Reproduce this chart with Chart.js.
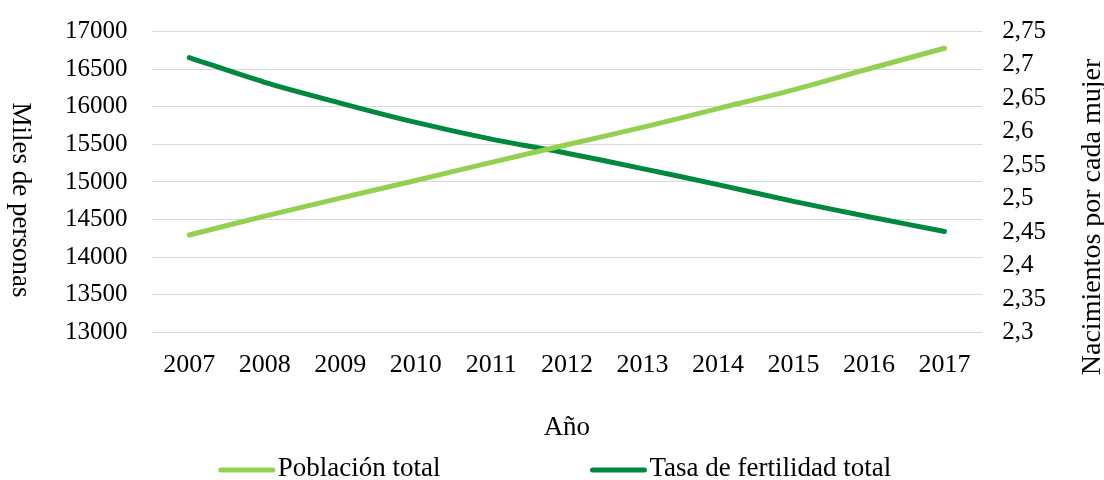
<!DOCTYPE html>
<html>
<head>
<meta charset="utf-8">
<script src="https://cdn.jsdelivr.net/npm/chart.js@4"></script>
<style>
  html, body { margin: 0; padding: 0; background: #fff; }
  #wrap { width: 1104px; height: 480px; }
</style>
</head>
<body>
<div id="wrap"><canvas id="c"></canvas></div>
<script>
const years = ['2007','2008','2009','2010','2011','2012','2013','2014','2015','2016','2017'];
const poblacion = [14295, 14545, 14785, 15020, 15260, 15495, 15725, 15975, 16225, 16505, 16777];
const fertilidad = [2.711, 2.674, 2.643, 2.614, 2.589, 2.568, 2.545, 2.521, 2.496, 2.473, 2.451];
const leftTitle = 'Miles de personas';
const rightTitle = 'Nacimientos por cada mujer';
const xTitle = 'Año';

const FONT = '"Liberation Serif", "Times New Roman", serif';
const LIGHT = '#92D050';
const DARK = '#00883C';

Chart.defaults.font.family = FONT;
Chart.defaults.font.size = 25;
Chart.defaults.color = '#000';

// side titles read the other way round from Chart.js defaults, so draw them here
const sideTitles = {
  id: 'sideTitles',
  afterDraw(chart) {
    const ctx = chart.ctx;
    ctx.save();
    ctx.font = '27px ' + FONT;
    ctx.fillStyle = '#000';
    ctx.textAlign = 'center';
    ctx.textBaseline = 'middle';
    ctx.translate(20, 200);
    ctx.rotate(Math.PI / 2);
    ctx.fillText(leftTitle, 0, 0);
    ctx.restore();

    ctx.save();
    ctx.font = '28px ' + FONT;
    ctx.fillStyle = '#000';
    ctx.textAlign = 'center';
    ctx.textBaseline = 'middle';
    ctx.translate(1093, 217);
    ctx.rotate(-Math.PI / 2);
    ctx.fillText(rightTitle, 0, 0);
    ctx.restore();
  }
};

// legend with a wide gap between the two entries
const lineLegend = {
  id: 'lineLegend',
  afterDraw(chart) {
    const ctx = chart.ctx;
    const sets = chart.data.datasets;
    const lineW = 56, gapText = 3, gapItem = 150, y = 470;
    ctx.save();
    ctx.font = '27px ' + FONT;
    const widths = sets.map(d => lineW + gapText + ctx.measureText(d.label).width);
    const total = widths.reduce((a, b) => a + b, 0) + gapItem * (sets.length - 1);
    let x = 555 - total / 2;
    sets.forEach((d, i) => {
      ctx.strokeStyle = d.borderColor;
      ctx.lineWidth = 5;
      ctx.lineCap = 'round';
      ctx.beginPath();
      ctx.moveTo(x + 2, y);
      ctx.lineTo(x + lineW - 2, y);
      ctx.stroke();
      ctx.fillStyle = '#000';
      ctx.textAlign = 'left';
      ctx.textBaseline = 'middle';
      ctx.fillText(d.label, x + lineW + gapText, y - 1);
      x += widths[i] + gapItem;
    });
    ctx.restore();
  }
};

new Chart(document.getElementById('c'), {
  type: 'line',
  data: {
    labels: years,
    datasets: [
      { label: 'Población total', data: poblacion, yAxisID: 'y', borderColor: LIGHT, backgroundColor: LIGHT,
        borderWidth: 5, pointRadius: 0, tension: 0.3, borderCapStyle: 'round' },
      { label: 'Tasa de fertilidad total', data: fertilidad, yAxisID: 'y1', borderColor: DARK, backgroundColor: DARK,
        borderWidth: 5, pointRadius: 0, tension: 0.3, borderCapStyle: 'round' }
    ]
  },
  options: {
    responsive: true,
    maintainAspectRatio: false,
    animation: false,
    layout: { autoPadding: false, padding: { left: 41, right: 38, top: 31, bottom: 32 } },
    plugins: { legend: { display: false }, tooltip: { enabled: false } },
    scales: {
      x: {
        offset: true,
        grid: { display: false },
        border: { display: false },
        ticks: { padding: 9, maxRotation: 0, autoSkip: false, font: { size: 26 } },
        title: { display: true, text: xTitle, padding: { top: 22, bottom: 4 }, font: { size: 27 } }
      },
      y: {
        position: 'left',
        min: 13000, max: 17000,
        grid: { color: '#D9D9D9', lineWidth: 1, drawTicks: false },
        border: { display: false },
        // small lineHeight keeps the scale from pushing the plot top down
        ticks: { stepSize: 500, padding: 24, autoSkip: false, font: { lineHeight: 0.6 }, callback: v => String(v) }
      },
      y1: {
        position: 'right',
        min: 2.3, max: 2.75,
        grid: { drawOnChartArea: false, drawTicks: false },
        border: { display: false },
        ticks: {
          stepSize: 0.05, padding: 20, autoSkip: false, font: { lineHeight: 0.6 },
          callback: v => String(Number(v.toFixed(2))).replace('.', ',')
        }
      }
    }
  },
  plugins: [sideTitles, lineLegend]
});
</script>
</body>
</html>
